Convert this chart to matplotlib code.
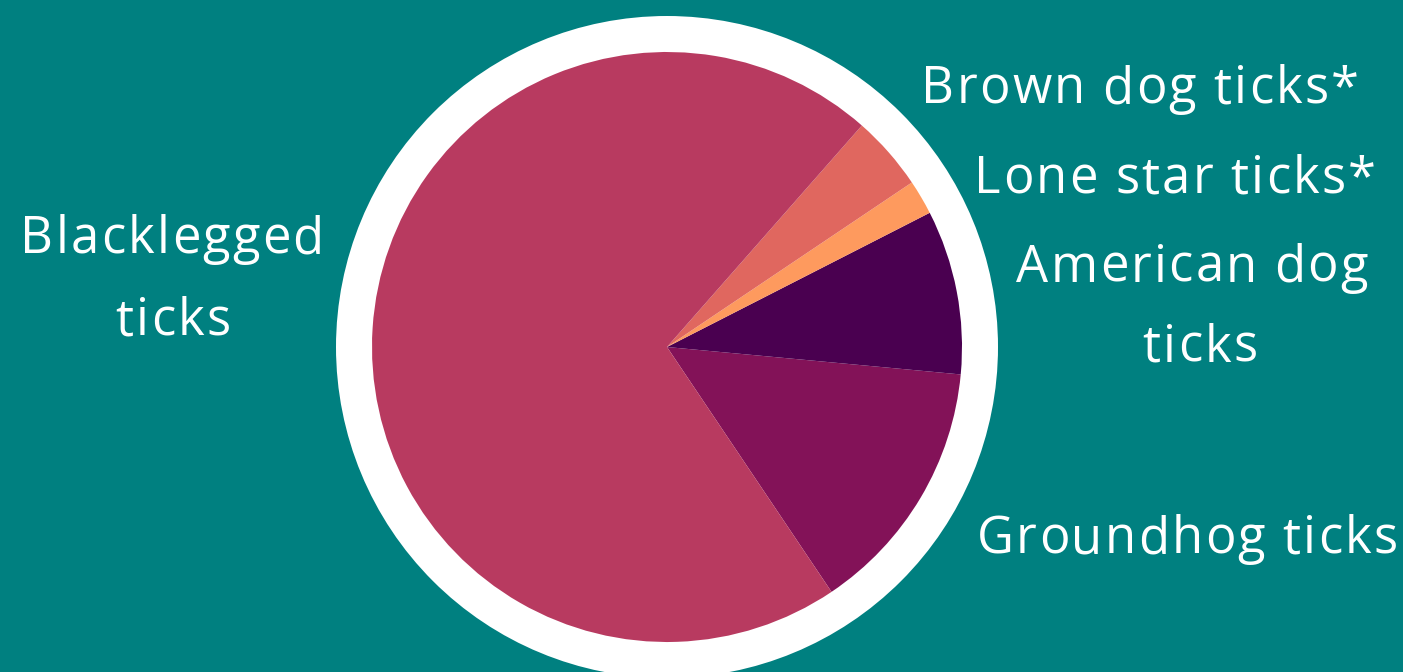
import matplotlib
matplotlib.use("Agg")
import matplotlib.pyplot as plt
from matplotlib.patches import Circle
from matplotlib.font_manager import FontProperties

categories = ["Groundhog ticks", "American dog\nticks", "Lone star ticks*", "Brown dog ticks*", "Blacklegged\nticks"]
shares = [14.1, 9.0, 1.9, 4.1, 70.9]
colors = ["#831258", "#4A0050", "#FE9A5E", "#E0675F", "#B83A60"]

W, H = 1403, 672
BG = "#008080"
fig = plt.figure(figsize=(W / 100, H / 100), dpi=100, facecolor=BG)
ax = fig.add_axes([0, 0, 1, 1])
ax.set_facecolor(BG)

cx, cy = 667, H - 347
ax.add_patch(Circle((cx, cy), 331, facecolor="white", edgecolor="none", zorder=0))
ax.pie(shares, colors=colors, startangle=-56.1, counterclock=True, center=(cx, cy),
       radius=295, wedgeprops=dict(linewidth=0), frame=True)

ax.set_xlim(0, W)
ax.set_ylim(0, H)
ax.set_aspect("equal")
ax.axis("off")

fp = FontProperties(family="Open Sans", size=36.5)
renderer = fig.canvas.get_renderer()
TRACK = 2.2  # extra letter spacing in px


def wid(s):
    if not s:
        return 0.0
    return renderer.get_text_width_height_descent(s, fp, ismath=False)[0]


def tracked_line(xc, baseline, s):
    n = len(s)
    total = wid(s) + TRACK * (n - 1)
    x0 = xc - total / 2
    for i, ch in enumerate(s):
        if ch == " ":
            continue
        pos = wid(s[: i + 1]) - wid(ch)
        ax.text(x0 + pos + TRACK * i, H - baseline, ch, fontproperties=fp,
                color="white", ha="left", va="baseline")


label_layout = {
    "Groundhog ticks": [(1187, 553)],
    "American dog\nticks": [(1192, 282), (1200, 362)],
    "Lone star ticks*": [(1175, 193)],
    "Brown dog ticks*": [(1140, 103)],
    "Blacklegged\nticks": [(172, 253), (173, 335)],
}
for c in categories:
    for line, (xc, b) in zip(c.split("\n"), label_layout[c]):
        tracked_line(xc, b, line)

fig.savefig("out.png", dpi=100, facecolor=fig.get_facecolor())
